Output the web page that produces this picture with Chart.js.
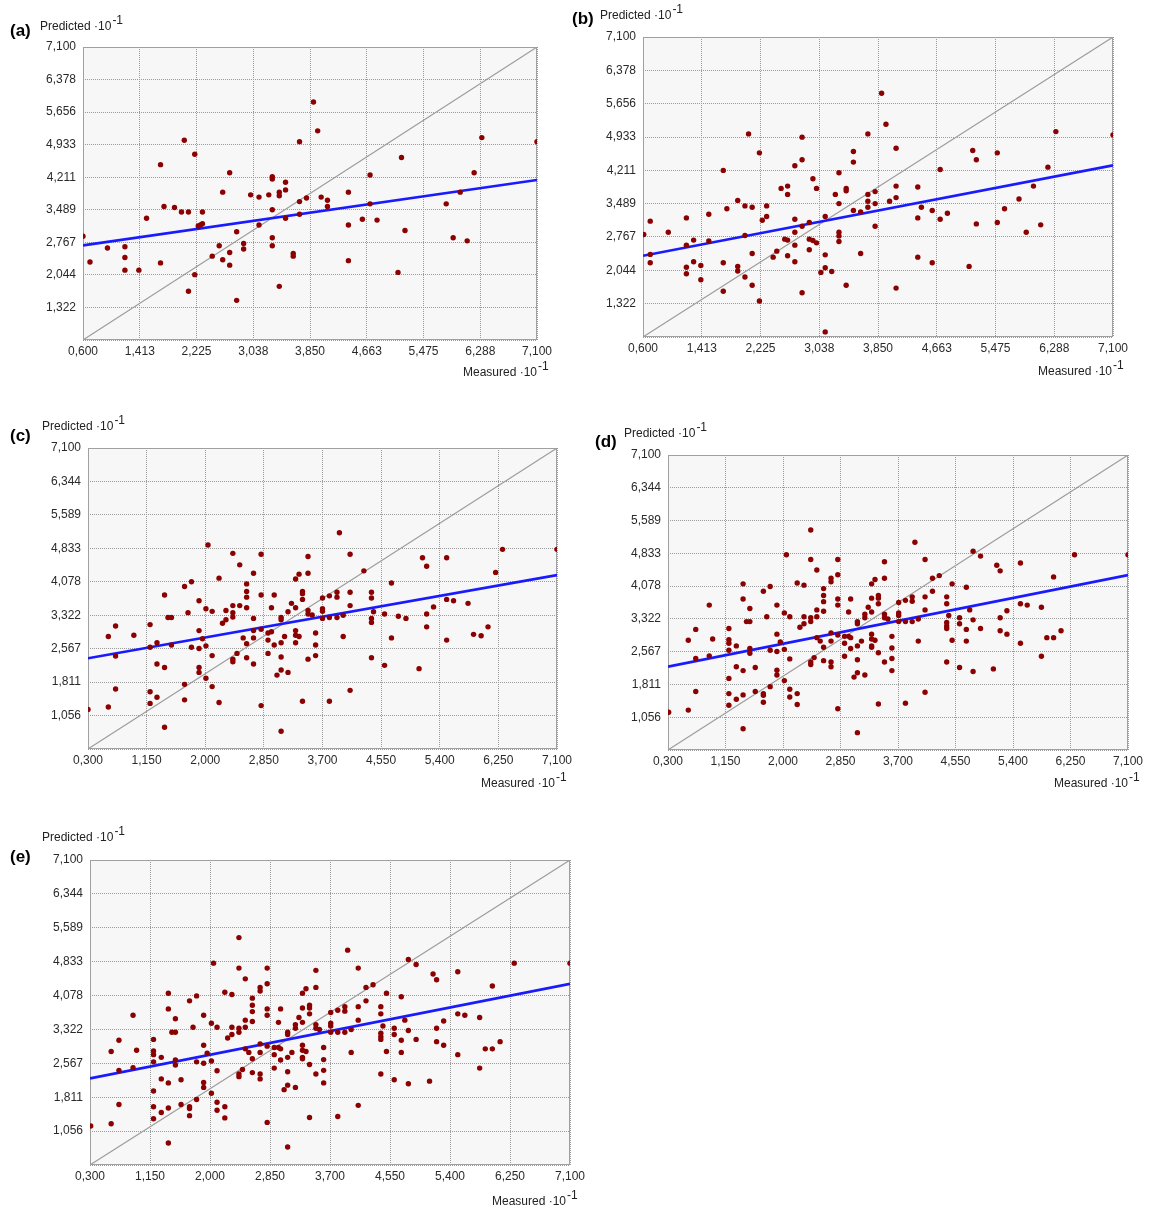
<!DOCTYPE html>
<html><head><meta charset="utf-8">
<script src="https://cdn.jsdelivr.net/npm/chart.js@4.4.0/dist/chart.umd.min.js"></script>
<style>
body{margin:0;background:#fff;width:1149px;height:1212px;position:relative;overflow:hidden;font-family:"Liberation Sans",Arial,sans-serif;}
canvas{position:absolute;}
.lbl{position:absolute;font-size:12px;line-height:14px;color:#222;white-space:nowrap;}
.lbl .sup{position:relative;top:-6px;margin-left:1px;}
.tag{position:absolute;font-weight:bold;font-size:17px;line-height:18px;color:#000;white-space:nowrap;}
</style></head><body>
<script>
// ---- tick labels ----
const xTicksAB = ['0,600','1,413','2,225','3,038','3,850','4,663','5,475','6,288','7,100'];
const yTicksAB = ['0,600','1,322','2,044','2,767','3,489','4,211','4,933','5,656','6,378','7,100'];
const xTicksCDE = ['0,300','1,150','2,000','2,850','3,700','4,550','5,400','6,250','7,100'];
const yTicksCDE = ['0,300','1,056','1,811','2,567','3,322','4,078','4,833','5,589','6,344','7,100'];

// ---- panel (a) ----
const aMeasured = [0.60,0.70,0.95,1.20,1.20,1.20,1.40,1.51,1.71,1.71,
1.76,1.91,2.01,2.05,2.11,2.11,2.20,2.20,2.25,2.28,
2.31,2.31,2.45,2.55,2.60,2.60,2.70,2.70,2.70,2.80,
2.80,2.90,2.90,3.00,3.12,3.12,3.26,3.31,3.31,3.31,
3.31,3.31,3.41,3.41,3.41,3.50,3.50,3.50,3.61,3.61,
3.70,3.70,3.70,3.80,3.90,3.96,4.01,4.10,4.10,4.40,
4.40,4.40,4.60,4.71,4.71,4.81,5.11,5.16,5.21,5.80,
5.90,6.00,6.10,6.20,6.31,7.10];
const aPredicted = [2.90,2.33,2.64,2.67,2.43,2.15,2.15,3.30,4.49,2.31,
3.56,3.54,3.44,5.03,3.44,1.68,4.72,2.05,3.13,3.15,
3.18,3.44,2.46,2.69,3.88,2.38,4.31,2.54,2.26,3.00,
1.48,2.74,2.62,3.82,3.77,3.15,3.82,4.22,4.17,3.49,
2.87,2.69,3.88,3.80,1.79,4.10,3.93,3.30,2.52,2.46,
5.00,3.67,3.39,3.75,5.88,5.24,3.77,3.70,3.56,3.88,
3.15,2.36,3.28,4.26,3.62,3.26,2.10,4.65,3.03,3.62,
2.87,3.88,2.80,4.31,5.09,5.00];
const aFit = [2.70, 4.15];

// ---- panel (b) ----
const bMeasured = [0.61,0.70,0.70,0.70,0.95,1.20,1.20,1.20,1.20,1.30,
1.30,1.40,1.40,1.51,1.51,1.71,1.71,1.71,1.76,1.91,
1.91,1.91,2.01,2.01,2.01,2.06,2.11,2.11,2.11,2.21,
2.21,2.25,2.31,2.31,2.40,2.45,2.51,2.56,2.60,2.60,
2.60,2.60,2.70,2.70,2.70,2.70,2.70,2.80,2.80,2.80,
2.80,2.90,2.90,2.90,2.95,2.95,3.00,3.00,3.06,3.12,
3.12,3.12,3.12,3.21,3.26,3.31,3.31,3.31,3.31,3.31,
3.41,3.41,3.41,3.51,3.51,3.51,3.61,3.61,3.71,3.71,
3.71,3.71,3.81,3.81,3.81,3.90,3.96,4.01,4.10,4.10,
4.10,4.10,4.40,4.40,4.40,4.45,4.60,4.60,4.71,4.71,
4.81,5.11,5.16,5.21,5.21,5.50,5.50,5.60,5.80,5.90,
6.00,6.10,6.20,6.31,7.10];
const bPredicted = [2.82,3.11,2.39,2.21,2.87,3.18,2.59,2.11,1.97,2.70,
2.23,2.15,1.84,3.26,2.68,4.21,2.21,1.59,3.38,3.56,
2.13,2.03,2.80,3.44,1.90,5.00,3.41,2.41,1.72,4.59,
1.38,3.13,3.21,3.44,2.33,2.46,3.82,2.72,3.87,3.69,
2.70,2.36,4.31,3.15,2.87,2.59,2.23,4.93,4.44,3.00,
1.56,3.08,2.72,2.49,4.03,2.69,3.82,2.64,2.00,3.21,
2.38,2.10,0.71,2.02,3.69,4.16,3.49,2.87,2.79,2.67,
3.82,3.77,1.72,4.62,4.39,3.34,3.31,2.41,5.00,3.69,
3.54,3.41,3.75,3.49,3.00,5.88,5.21,3.54,4.69,3.87,
3.62,1.66,3.85,3.18,2.33,3.41,3.34,2.21,4.23,3.15,
3.28,2.13,4.64,4.44,3.05,4.59,3.08,3.38,3.59,2.87,
3.87,3.03,4.28,5.05,4.98];
const bFit = [2.36, 4.32];

// ---- panel (c) ----
const cMeasured = [0.30,0.595,0.595,0.70,0.70,0.70,0.965,1.20,1.20,1.20,
1.20,1.30,1.30,1.30,1.41,1.41,1.41,1.46,1.51,1.51,
1.70,1.70,1.70,1.75,1.80,1.80,1.91,1.91,1.91,1.91,
1.91,1.96,2.01,2.01,2.01,2.04,2.10,2.10,2.10,2.20,
2.20,2.25,2.30,2.30,2.40,2.40,2.40,2.40,2.40,2.40,
2.46,2.50,2.50,2.55,2.60,2.60,2.60,2.60,2.60,2.60,
2.70,2.70,2.70,2.70,2.70,2.81,2.81,2.81,2.81,2.91,
2.91,2.91,2.96,2.96,3.00,3.00,3.04,3.10,3.10,3.10,
3.10,3.10,3.10,3.15,3.20,3.20,3.25,3.31,3.31,3.31,
3.31,3.31,3.36,3.36,3.41,3.41,3.41,3.41,3.49,3.49,
3.49,3.49,3.49,3.55,3.60,3.60,3.60,3.70,3.70,3.70,
3.70,3.80,3.80,3.80,3.91,3.91,3.91,3.945,4.00,4.00,
4.10,4.10,4.10,4.10,4.30,4.41,4.41,4.41,4.41,4.41,
4.44,4.60,4.60,4.70,4.70,4.80,4.91,5.10,5.15,5.21,
5.21,5.21,5.31,5.50,5.50,5.50,5.60,5.81,5.89,6.00,
6.10,6.21,6.31,7.10];
const cPredicted = [1.195,1.25,2.84,3.08,2.40,1.655,2.87,3.11,2.60,1.595,
1.33,2.70,2.22,1.47,3.78,2.14,0.79,3.27,3.27,2.65,
3.97,1.76,1.41,3.38,4.08,2.60,3.65,2.975,2.57,2.14,
2.03,2.79,3.47,2.63,1.90,4.91,3.41,2.41,1.71,4.16,
1.35,3.14,3.22,3.43,4.72,3.54,3.38,3.28,2.33,2.27,
2.46,4.46,3.54,2.81,4.03,3.86,3.73,3.49,2.68,2.36,
4.27,3.25,2.975,2.81,2.22,4.70,3.78,3.005,1.28,2.92,
2.76,2.46,2.95,3.49,3.78,2.65,1.97,3.27,3.22,2.70,
2.38,2.085,0.70,2.84,3.40,2.03,3.59,4.14,3.49,2.975,
2.87,2.70,4.25,2.84,3.86,3.81,3.68,1.38,4.65,4.27,
3.43,3.35,2.33,3.33,2.92,2.65,2.41,3.47,3.41,3.25,
3.71,3.76,3.27,1.38,3.84,3.73,3.27,5.185,2.84,3.32,
4.70,3.84,3.54,1.625,4.325,3.84,3.71,3.25,3.16,2.36,
3.40,3.35,2.19,4.05,2.81,3.30,3.25,2.115,4.62,4.43,
3.35,3.06,3.51,4.62,3.68,2.76,3.65,3.59,2.89,2.86,
3.06,4.29,4.81,4.81];
const cFit = [2.35, 4.23];

// ---- panels (d) and (e): same sample set ----
const dMeasured = [0.31,0.60,0.60,0.71,0.71,0.71,0.91,0.91,0.96,1.20,
1.20,1.20,1.20,1.20,1.20,1.20,1.31,1.31,1.31,1.41,
1.41,1.41,1.41,1.41,1.46,1.51,1.51,1.51,1.51,1.59,
1.59,1.71,1.71,1.71,1.71,1.76,1.81,1.81,1.81,1.91,
1.91,1.91,1.91,1.91,1.96,2.02,2.02,2.02,2.05,2.10,
2.10,2.10,2.10,2.21,2.21,2.21,2.25,2.31,2.31,2.31,
2.41,2.41,2.41,2.41,2.41,2.41,2.46,2.50,2.50,2.50,
2.50,2.55,2.60,2.60,2.60,2.60,2.60,2.60,2.71,2.71,
2.71,2.71,2.71,2.71,2.81,2.81,2.81,2.81,2.81,2.81,
2.91,2.91,2.91,2.97,2.97,3.00,3.00,3.00,3.05,3.10,
3.10,3.10,3.10,3.10,3.10,3.16,3.21,3.21,3.21,3.26,
3.31,3.31,3.31,3.31,3.31,3.31,3.31,3.36,3.36,3.41,
3.41,3.41,3.41,3.41,3.50,3.50,3.50,3.50,3.50,3.55,
3.61,3.61,3.61,3.61,3.71,3.71,3.71,3.71,3.81,3.81,
3.81,3.91,3.91,3.91,3.95,4.00,4.00,4.10,4.10,4.10,
4.10,4.21,4.21,4.31,4.42,4.42,4.42,4.42,4.42,4.42,
4.45,4.50,4.50,4.61,4.61,4.61,4.71,4.71,4.71,4.76,
4.81,4.81,4.81,4.92,4.92,5.11,5.16,5.21,5.21,5.21,
5.31,5.31,5.51,5.51,5.51,5.61,5.82,5.82,5.90,6.00,
6.00,6.11,6.31,7.10];
const dPredicted = [1.17,2.83,1.22,3.08,2.41,1.65,3.64,2.47,2.86,3.10,
2.84,2.76,2.60,1.95,1.60,1.33,2.70,2.22,1.47,4.13,
3.78,2.13,1.57,0.79,3.26,3.56,3.26,2.64,2.53,2.20,
1.65,3.96,1.60,1.56,1.40,3.37,4.07,2.60,1.76,3.64,
2.97,2.57,2.14,2.03,2.79,3.46,2.62,1.90,4.80,3.37,
2.40,1.70,1.52,4.15,1.60,1.35,3.13,4.10,3.37,3.21,
5.37,4.69,3.35,3.26,2.33,2.27,2.43,4.45,3.53,3.37,
2.89,2.81,4.02,3.86,3.72,3.50,2.67,2.36,4.26,4.18,
3.00,2.81,2.33,2.22,4.69,4.34,3.78,3.64,2.95,1.25,
2.92,2.76,2.46,3.48,2.92,3.78,2.89,2.64,1.98,3.26,
3.21,2.70,2.38,2.08,0.70,2.81,3.43,3.35,2.03,3.59,
4.13,3.80,3.48,2.97,2.86,2.70,2.67,4.23,2.83,3.86,
3.80,3.67,2.54,1.36,4.64,4.26,3.43,3.35,2.33,3.32,
2.92,2.65,2.41,2.13,3.70,3.46,3.40,3.26,3.75,3.26,
1.38,3.83,3.73,3.26,5.09,3.32,2.81,4.69,3.83,3.53,
1.63,4.26,3.96,4.32,3.83,3.67,3.24,3.16,3.10,2.33,
3.40,4.13,2.83,3.35,3.21,2.20,4.05,3.08,2.81,3.53,
4.88,3.30,2.11,4.77,3.10,2.17,4.56,4.43,3.35,3.05,
3.51,2.97,4.61,3.67,2.76,3.64,3.59,2.46,2.89,4.29,
2.89,3.05,4.80,4.80];
const dFit = [2.22, 4.33];
const eMeasured = dMeasured;
const ePredicted = dPredicted;
const eFit = [2.23, 4.34];

// ---- rendering ----
Chart.defaults.font.family = '"Liberation Sans", Arial, sans-serif';
const num = s => parseFloat(s.replace(',', '.'));

const plotFrame = {
  id: 'plotFrame',
  beforeDraw(chart) {
    const a = chart.chartArea, c = chart.ctx;
    c.save(); c.fillStyle = '#f7f7f7';
    c.fillRect(a.left, a.top, a.right - a.left, a.bottom - a.top); c.restore();
  },
  beforeDatasetsDraw(chart) {
    const a = chart.chartArea, c = chart.ctx;
    c.save(); c.strokeStyle = '#a0a0a0'; c.lineWidth = 1;
    c.strokeRect(a.left + 0.5, a.top + 0.5, a.right - a.left - 1, a.bottom - a.top - 1); c.restore();
  }
};

function makePanel(p) {
  const cv = document.createElement('canvas');
  cv.width = p.w; cv.height = p.h;
  Object.assign(cv.style, {left: p.x + 'px', top: p.y + 'px', width: p.w + 'px', height: p.h + 'px'});
  document.body.appendChild(cv);
  const xt = p.xTicks.map(num), yt = p.yTicks.map(num);
  const xmin = xt[0], xmax = xt[xt.length - 1], ymin = yt[0], ymax = yt[yt.length - 1];
  const n = Math.min(p.measured.length, p.predicted.length);
  const pts = [];
  for (let i = 0; i < n; i++) pts.push({x: p.measured[i], y: p.predicted[i]});
  const tickFont = {size: 12};
  new Chart(cv, {
    type: 'scatter',
    data: {datasets: [
      {data: pts, pointRadius: 2.7, pointBackgroundColor: '#8b0000', pointBorderWidth: 0, showLine: false},
      {data: [{x: xmin, y: p.fit[0]}, {x: xmax, y: p.fit[1]}], showLine: true, borderColor: '#1a1aff', borderWidth: 2.7, pointRadius: 0},
      {data: [{x: xmin, y: ymin}, {x: xmax, y: ymax}], showLine: true, borderColor: '#9c9c9c', borderWidth: 1.1, pointRadius: 0}
    ]},
    options: {
      responsive: false, animation: false, devicePixelRatio: 1,
      layout: {padding: {left: 0, top: p.top, right: p.w - p.right, bottom: 0}},
      plugins: {legend: {display: false}, tooltip: {enabled: false}},
      scales: {
        x: {
          type: 'linear', min: xmin, max: xmax,
          afterBuildTicks: s => { s.ticks = xt.map(v => ({value: v})); },
          afterFit: s => { s.height = p.h - p.bottom; },
          ticks: {callback: (v, i) => p.xTicks[i], color: '#2a2a2a', font: tickFont, padding: 4, maxRotation: 0, autoSkip: false},
          grid: {color: '#9a9a9a', drawTicks: false, lineWidth: 1},
          border: {display: false, dash: [1, 1]}
        },
        y: {
          type: 'linear', min: ymin, max: ymax,
          afterBuildTicks: s => { s.ticks = yt.map(v => ({value: v})); },
          afterFit: s => { s.width = p.left; },
          ticks: {callback: (v, i) => i === 0 ? '' : p.yTicks[i], color: '#2a2a2a', font: tickFont, padding: 7, autoSkip: false},
          grid: {color: '#9a9a9a', drawTicks: false, lineWidth: 1},
          border: {display: false, dash: [1, 1]}
        }
      }
    },
    plugins: [plotFrame]
  });
}

function addText(cls, html, left, top) {
  const d = document.createElement('div');
  d.className = cls; d.innerHTML = html;
  d.style.left = left + 'px'; d.style.top = top + 'px';
  document.body.appendChild(d);
}

const panels = [
  {tag: '(a)', x: 0, y: 0, w: 565, h: 385, left: 83, top: 47, right: 537, bottom: 340,
   xTicks: xTicksAB, yTicks: yTicksAB, measured: aMeasured, predicted: aPredicted, fit: aFit,
   tagPos: [10, 22], predPos: [40, 19], measPos: [463, 365]},
  {tag: '(b)', x: 565, y: 0, w: 584, h: 385, left: 78, top: 37, right: 548, bottom: 337,
   xTicks: xTicksAB, yTicks: yTicksAB, measured: bMeasured, predicted: bPredicted, fit: bFit,
   tagPos: [572, 10], predPos: [600, 8], measPos: [1038, 364]},
  {tag: '(c)', x: 0, y: 400, w: 580, h: 400, left: 88, top: 48, right: 557, bottom: 349,
   xTicks: xTicksCDE, yTicks: yTicksCDE, measured: cMeasured, predicted: cPredicted, fit: cFit,
   tagPos: [10, 427], predPos: [42, 419], measPos: [481, 776]},
  {tag: '(d)', x: 580, y: 400, w: 569, h: 400, left: 88, top: 55, right: 548, bottom: 350,
   xTicks: xTicksCDE, yTicks: yTicksCDE, measured: dMeasured, predicted: dPredicted, fit: dFit,
   tagPos: [595, 433], predPos: [624, 426], measPos: [1054, 776]},
  {tag: '(e)', x: 0, y: 820, w: 600, h: 392, left: 90, top: 40, right: 570, bottom: 345,
   xTicks: xTicksCDE, yTicks: yTicksCDE, measured: eMeasured, predicted: ePredicted, fit: eFit,
   tagPos: [10, 848], predPos: [42, 830], measPos: [492, 1194]}
];

panels.forEach(p => {
  makePanel(p);
  addText('tag', p.tag, p.tagPos[0], p.tagPos[1]);
  addText('lbl', 'Predicted ·10<span class="sup">-1</span>', p.predPos[0], p.predPos[1]);
  addText('lbl', 'Measured ·10<span class="sup">-1</span>', p.measPos[0], p.measPos[1]);
});
</script>
</body></html>
